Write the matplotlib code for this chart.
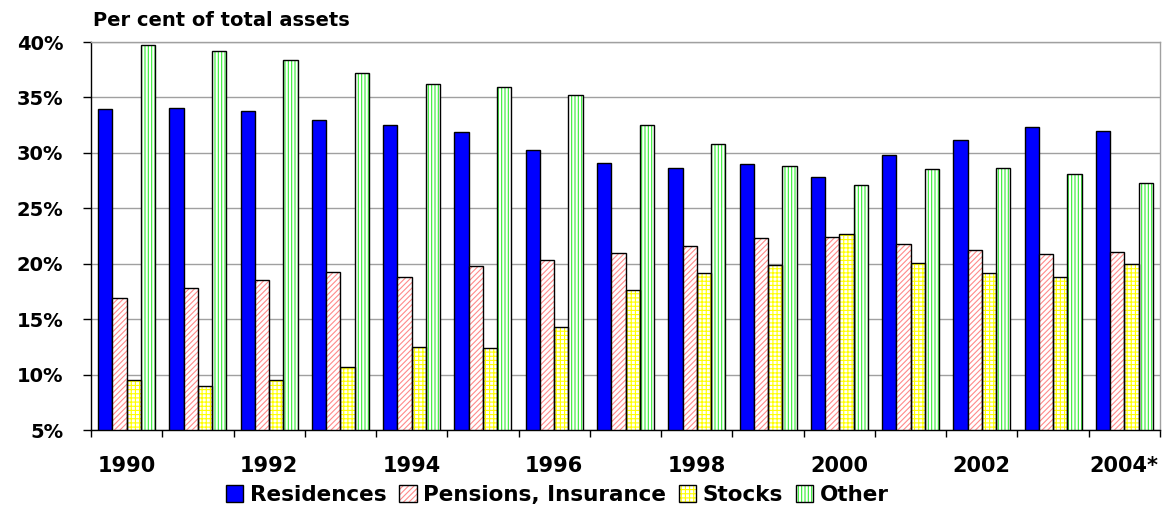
import matplotlib
matplotlib.use("Agg")
import matplotlib.pyplot as plt
import numpy as np
from matplotlib.patches import Patch
from matplotlib.legend_handler import HandlerTuple

years = ['1990', '1991', '1992', '1993', '1994', '1995', '1996', '1997',
         '1998', '1999', '2000', '2001', '2002', '2003', '2004*']
residences = [34.0, 34.05, 33.8, 33.0, 32.5, 31.9, 30.3, 29.1, 28.6, 29.0, 27.8, 29.8, 31.2, 32.3, 32.0]
pensions = [16.9, 17.85, 18.5, 19.25, 18.8, 19.8, 20.3, 21.0, 21.6, 22.3, 22.4, 21.8, 21.2, 20.9, 21.1]
stocks = [9.5, 9.0, 9.55, 10.7, 12.5, 12.4, 14.3, 17.6, 19.2, 19.9, 22.7, 20.1, 19.2, 18.8, 20.0]
other = [39.7, 39.2, 38.4, 37.2, 36.2, 35.9, 35.2, 32.5, 30.8, 28.8, 27.1, 28.5, 28.6, 28.1, 27.3]
series_names = ['Residences', 'Pensions, Insurance', 'Stocks', 'Other']
yticks = [5, 10, 15, 20, 25, 30, 35, 40]

plt.rcParams['font.family'] = ['DejaVu Sans']
plt.rcParams['hatch.linewidth'] = 0.8

W, H = 1166, 514
fig = plt.figure(figsize=(W / 100, H / 100), dpi=100)
ax = fig.add_axes([91 / W, 1 - 430 / H, (1160 - 91) / W, (430 - 42) / H])

x = np.arange(len(years))
bw = 0.2
offsets = [-1.5 * bw, -0.5 * bw, 0.5 * bw, 1.5 * bw]

styles = [
    dict(face='#0000ff', hatch=None, hcolor=None),
    dict(face='white', hatch='//////', hcolor='#ff8a8a'),
    dict(face='white', hatch='++++', hcolor='#ffff00'),
    dict(face='white', hatch='|||||', hcolor='#33ee33'),
]
data = [residences, pensions, stocks, other]
base = 5

handles = []
for vals, off, st in zip(data, offsets, styles):
    heights = [v - base for v in vals]
    if st['hatch'] is None:
        ax.bar(x + off, heights, bw, bottom=base, color=st['face'],
               edgecolor='black', linewidth=1.0, zorder=3)
        handles.append(Patch(facecolor=st['face'], edgecolor='black', linewidth=1.0))
    else:
        ax.bar(x + off, heights, bw, bottom=base, color=st['face'],
               edgecolor=st['hcolor'], hatch=st['hatch'], linewidth=0, zorder=3)
        ax.bar(x + off, heights, bw, bottom=base, fill=False,
               edgecolor='black', linewidth=1.0, zorder=4)
        handles.append((Patch(facecolor='white', edgecolor=st['hcolor'], hatch=st['hatch'], linewidth=0),
                        Patch(fill=False, edgecolor='black', linewidth=1.0)))

ax.set_xlim(-0.5, len(years) - 0.5)
ax.set_ylim(5, 40)
ax.set_yticks(yticks)
ax.set_yticklabels([f'{v}%' for v in yticks], fontsize=14, fontweight='bold')
ax.yaxis.grid(True, color='#a0a0a0', linewidth=1.0, zorder=0)
ax.set_axisbelow(True)
ax.tick_params(axis='y', direction='out', length=6, width=1, pad=14)

ax.set_xticks(x)
ax.set_xticklabels([y if i % 2 == 0 else '' for i, y in enumerate(years)],
                   fontsize=15, fontweight='bold')
ax.tick_params(axis='x', which='major', length=0, pad=19)
ax.set_xticks(np.arange(-0.5, len(years), 1.0), minor=True)
ax.tick_params(axis='x', which='minor', direction='out', length=5, width=1)

for s in ['left', 'bottom']:
    ax.spines[s].set_color('black')
    ax.spines[s].set_linewidth(1.0)
for s in ['top', 'right']:
    ax.spines[s].set_color('#a0a0a0')
    ax.spines[s].set_linewidth(1.0)

fig.text(93 / W, 1 - 21 / H, 'Per cent of total assets', fontsize=14,
         fontweight='bold', ha='left', va='center')

fig.legend(handles, series_names, loc='center', bbox_to_anchor=(0.478, 1 - 495 / H),
           ncol=4, frameon=False, handler_map={tuple: HandlerTuple(ndivide=1)},
           prop=dict(size=15.5, weight='bold'), handlelength=0.8, handleheight=0.8,
           handletextpad=0.3, columnspacing=0.6, borderaxespad=0)

fig.savefig('out.png', dpi=100)
